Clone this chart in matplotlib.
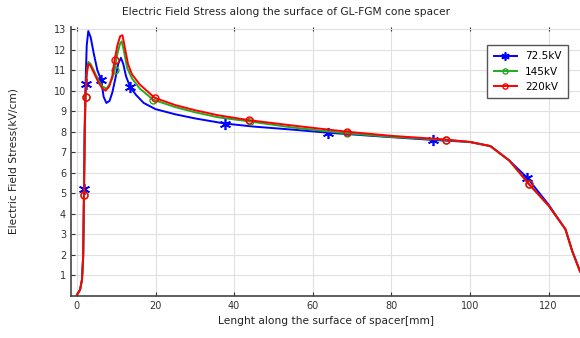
import matplotlib
matplotlib.use("Agg")
from matplotlib import pyplot as plt

# field stress along the spacer surface, one curve per voltage level
x_725 = [0.0, 0.8, 1.3, 1.6, 1.8, 2.0, 2.2, 2.5, 2.9, 3.5, 4.3, 5.2, 6.2, 6.8, 7.5, 8.3,
         9.0, 9.8, 10.5, 11.2, 11.8, 12.5, 13.5, 15.0, 17.0, 20.0, 25.0, 30.0, 37.6,
         45.0, 55.0, 64.0, 75.0, 90.6, 100.0, 105.2, 110.0, 114.6, 120.0, 124.3,
         126.0, 128.0]
e_725 = [0.05, 0.3, 0.8, 2.0, 5.2, 8.5, 10.3, 12.2, 12.9, 12.6, 11.8, 11.0, 10.5, 9.7,
         9.4, 9.5, 9.9, 10.6, 11.3, 11.6, 11.3, 10.7, 10.2, 9.8, 9.4, 9.1, 8.85, 8.65,
         8.4, 8.25, 8.1, 7.95, 7.8, 7.6, 7.5, 7.3, 6.6, 5.75, 4.45, 3.25, 2.2, 1.2]
m_725 = [4, 6, 12, 22, 28, 31, 33, 37]

x_145 = [0.0, 0.8, 1.3, 1.6, 1.8, 2.0, 2.2, 2.5, 2.9, 3.5, 4.5, 5.5, 6.5, 7.5, 8.3, 9.0,
         9.6, 10.3, 11.0, 11.4, 12.0, 12.8, 14.0, 16.0, 19.4, 25.0, 30.0, 36.0, 44.0,
         55.0, 68.7, 80.0, 93.8, 100.0, 105.2, 110.0, 115.0, 120.0, 124.3, 126.0, 128.0]
e_145 = [0.05, 0.3, 0.8, 1.9, 4.9, 8.0, 9.7, 10.9, 11.4, 11.3, 10.9, 10.5, 10.2, 10.1,
         10.3, 10.6, 11.0, 11.8, 12.3, 12.4, 11.9, 11.1, 10.6, 10.1, 9.56, 9.2, 8.95,
         8.7, 8.5, 8.2, 7.92, 7.75, 7.6, 7.5, 7.3, 6.6, 5.45, 4.4, 3.25, 2.2, 1.2]
m_145 = [4, 6, 16, 24, 28, 30, 32, 36]

x_220 = [0.0, 0.8, 1.3, 1.6, 1.8, 2.0, 2.2, 2.5, 2.9, 3.5, 4.5, 5.5, 6.5, 7.3, 8.2, 9.0,
         9.6, 10.3, 11.0, 11.6, 12.2, 13.0, 14.0, 16.0, 19.8, 25.0, 30.0, 36.0, 43.9,
         55.0, 68.7, 80.0, 93.8, 100.0, 105.2, 110.0, 115.0, 120.0, 124.3, 126.0, 128.0]
e_220 = [0.05, 0.3, 0.8, 1.9, 4.9, 8.0, 9.7, 10.8, 11.3, 11.2, 10.8, 10.4, 10.1, 10.0,
         10.2, 10.7, 11.5, 12.2, 12.65, 12.7, 12.1, 11.3, 10.8, 10.3, 9.65, 9.3, 9.05,
         8.8, 8.56, 8.3, 8.0, 7.8, 7.62, 7.5, 7.3, 6.6, 5.45, 4.4, 3.25, 2.2, 1.2]
m_220 = [4, 6, 16, 24, 28, 30, 32, 36]

x_ticks = [0, 20, 40, 60, 80, 100, 120]
y_ticks = [1, 2, 3, 4, 5, 6, 7, 8, 9, 10, 11, 12, 13]

plt.rcParams["font.family"] = "DejaVu Sans"
fig = plt.figure(figsize=(5.8, 3.38), dpi=100)
ax = fig.add_axes([71 / 580, 1 - 296 / 338, 1 - 71 / 580, 269 / 338])

ax.plot(x_725, e_725, color="#0000ff", lw=1.4, marker=(6, 2, 0), ms=8, mew=1.2,
        markevery=m_725, label="72.5kV")
ax.plot(x_145, e_145, color="#22aa22", lw=1.4, marker="o", ms=5, mfc="none", mew=1.0,
        markevery=m_145, label="145kV")
ax.plot(x_220, e_220, color="#ff0000", lw=1.4, marker="o", ms=5, mfc="none", mew=1.0,
        markevery=m_220, label="220kV")

ax.set_xlim(-1.5, 128)
ax.set_ylim(0, 13.1)
ax.set_xticks(x_ticks)
ax.set_yticks(y_ticks)
ax.tick_params(direction="in", labelsize=7, length=3, top=True, colors="#333333")
ax.grid(True, color="#e0e0e0", lw=0.8)
for side in ["top", "right"]:
    ax.spines[side].set_visible(False)
for side in ["left", "bottom"]:
    ax.spines[side].set_color("#444444")
    ax.spines[side].set_linewidth(1.2)

ax.set_xlabel("Lenght along the surface of spacer[mm]", fontsize=7.7, color="#222222")
ax.xaxis.set_label_coords(0.5, -0.075)
ax.set_ylabel("Electric Field Stress(kV/cm)", fontsize=7.7, color="#222222")
ax.yaxis.set_label_coords(-0.104, 0.5)
fig.text(286 / 580, 1 - 12 / 338, "Electric Field Stress along the surface of GL-FGM cone spacer",
         ha="center", va="center", fontsize=7.7, color="#222222")

leg = ax.legend(loc="upper right", bbox_to_anchor=(0.986, 0.952), fontsize=7.5,
                fancybox=False, framealpha=1, edgecolor="#555555", handlelength=2.2,
                borderpad=0.6, labelspacing=0.5, markerscale=0.75)
leg.get_frame().set_linewidth(1.0)

fig.savefig("out.png", dpi=100)
